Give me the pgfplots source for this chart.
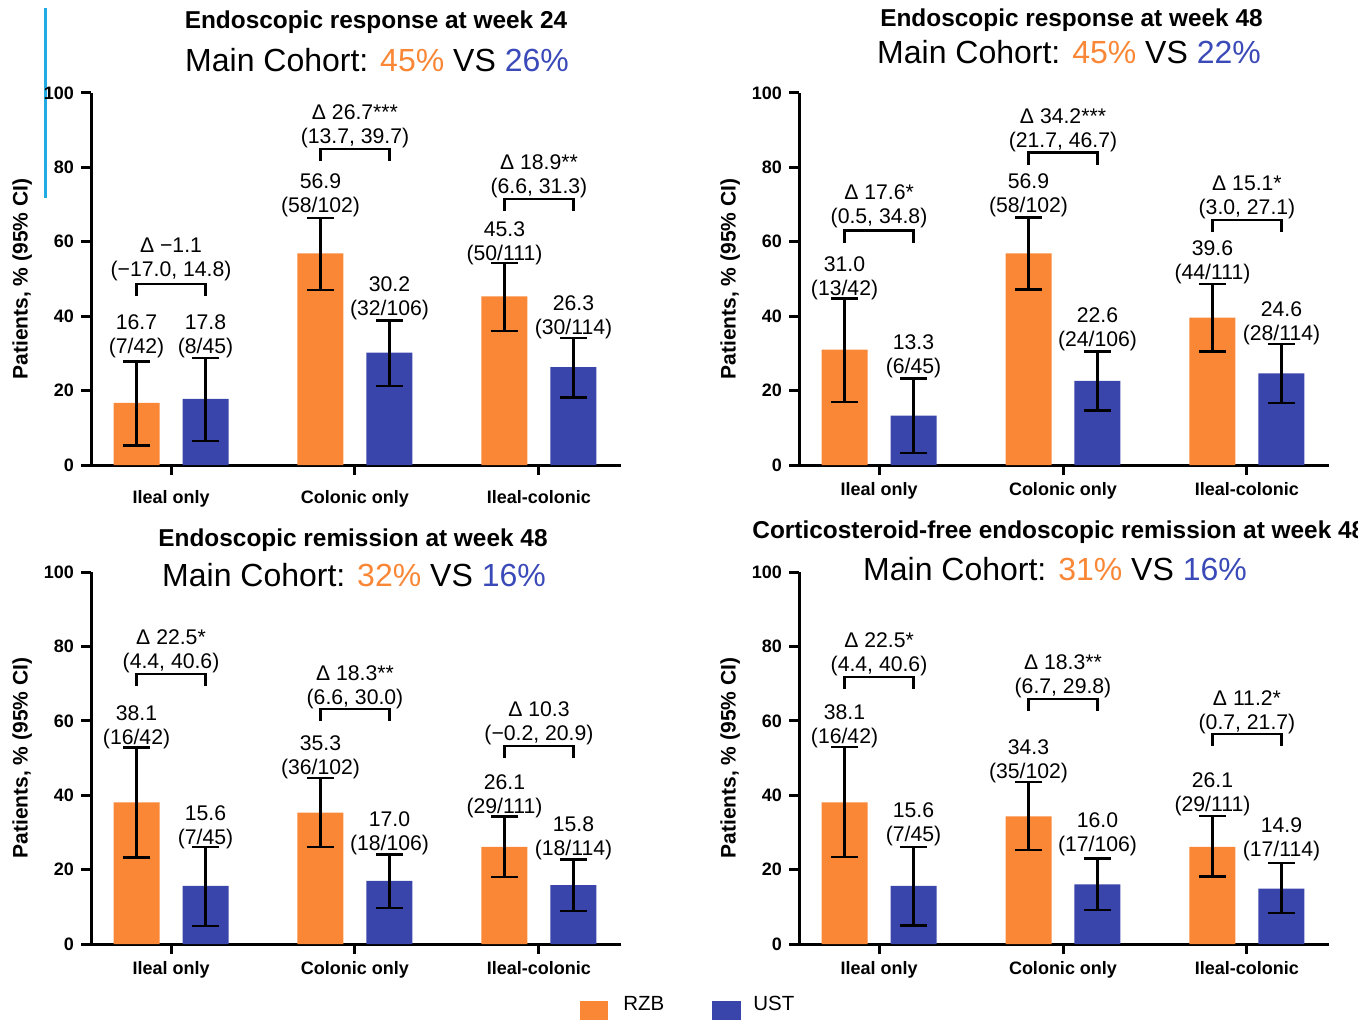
\documentclass[border=0pt]{standalone}
\usepackage{pgfplots}
\pgfplotsset{compat=1.18}
\usepackage{fontspec}
\setmainfont{Liberation Sans}
\definecolor{rzb}{RGB}{249,135,54}
\definecolor{ust}{RGB}{57,69,171}
\definecolor{ustt}{RGB}{58,74,184}
\definecolor{cyanline}{RGB}{34,170,226}

\pgfplotsset{
 panel/.style={
  scale only axis, width=265pt, height=186pt, anchor=south west,
  xmin=-0.435, xmax=2.446, ymin=0, ymax=100,
  axis lines=left, axis line style={-, line width=1.5pt, black},
  xtick={0,1,2}, xticklabels={Ileal only,Colonic only,Ileal-colonic},
  ytick={0,20,40,60,80,100},
  tick align=outside, major tick length=5pt,
  every tick/.append style={line width=1.5pt, black},
  tick label style={font=\bfseries\fontsize{9}{10}\selectfont},
  /pgf/number format/assume math mode=true,
  ylabel={Patients, \% (95\% CI)},
  ylabel style={at={(axis description cs:-0.13,0.5)}, anchor=center, font=\bfseries\fontsize{10.5}{12}\selectfont},
  clip=false,
 },
 barbase/.style={ybar, bar width=23pt, bar shift=0pt, draw=none,
   error bars/y dir=both, error bars/y explicit,
   error bars/error bar style={line width=1.2pt, black},
   error bars/error mark options={rotate=90, line width=1.2pt, mark size=6.75pt, black}},
 rzbbar/.style={barbase, fill=rzb},
 ustbar/.style={barbase, fill=ust},
 brk/.style={black, line width=1.2pt, mark=none, sharp plot},
}
\tikzset{vl/.style={align=center, font=\fontsize{10.6}{12}\selectfont, inner sep=0pt, yshift=-1pt}}

\begin{document}
\begin{tikzpicture}
\useasboundingbox (0,0) rectangle (679pt,509.5pt);
\clip (0,0) rectangle (679pt,509.5pt);

% decorative cyan line
\draw[cyanline, line width=1.5pt] (22.5pt,505.5pt) -- (22.5pt,410.5pt);

% ---------------- Panel 1 ----------------
\begin{axis}[panel, at={(45.5pt,277pt)}, xticklabel style={yshift=-4pt}]
\addplot[rzbbar] table[x=x, y=y, y error plus=ep, y error minus=em] {
x y ep em
-0.1875 16.7 11.1 11.5
0.8125 56.9 9.5 9.8
1.8125 45.3 9.0 9.3
};
\addplot[ustbar] table[x=x, y=y, y error plus=ep, y error minus=em] {
x y ep em
0.1875 17.8 10.9 11.4
1.1875 30.2 8.6 9.0
2.1875 26.3 7.9 8.2
};
\addplot[brk] coordinates {(-0.1875,45.4) (-0.1875,48.7) (0.1875,48.7) (0.1875,45.4)};
\addplot[brk] coordinates {(0.8125,81.7) (0.8125,84.9) (1.1875,84.9) (1.1875,81.7)};
\addplot[brk] coordinates {(1.8125,68.3) (1.8125,71.5) (2.1875,71.5) (2.1875,68.3)};
\node[vl] at (axis cs:-0.1875,35.2) {16.7\\(7/42)};
\node[vl] at (axis cs:0.1875,35.2) {17.8\\(8/45)};
\node[vl] at (axis cs:0.8125,73.1) {56.9\\(58/102)};
\node[vl] at (axis cs:1.1875,45.4) {30.2\\(32/106)};
\node[vl] at (axis cs:1.8125,60.2) {45.3\\(50/111)};
\node[vl] at (axis cs:2.1875,40.3) {26.3\\(30/114)};
\node[vl] at (axis cs:0,55.8) {Δ −1.1\\(−17.0, 14.8)};
\node[vl] at (axis cs:1,91.5) {Δ 26.7***\\(13.7, 39.7)};
\node[vl] at (axis cs:2,78.1) {Δ 18.9**\\(6.6, 31.3)};
\end{axis}

% ---------------- Panel 2 ----------------
\begin{axis}[panel, at={(399.5pt,277pt)}]
\addplot[rzbbar] table[x=x, y=y, y error plus=ep, y error minus=em] {
x y ep em
-0.1875 31.0 13.8 14.1
0.8125 56.9 9.6 9.7
1.8125 39.6 9.1 9.1
};
\addplot[ustbar] table[x=x, y=y, y error plus=ep, y error minus=em] {
x y ep em
0.1875 13.3 9.9 10.0
1.1875 22.6 7.9 8.0
2.1875 24.6 7.9 8.0
};
\addplot[brk] coordinates {(-0.1875,59.8) (-0.1875,63.0) (0.1875,63.0) (0.1875,59.8)};
\addplot[brk] coordinates {(0.8125,80.7) (0.8125,84.0) (1.1875,84.0) (1.1875,80.7)};
\addplot[brk] coordinates {(1.8125,62.5) (1.8125,65.8) (2.1875,65.8) (2.1875,62.5)};
\node[vl] at (axis cs:-0.1875,50.8) {31.0\\(13/42)};
\node[vl] at (axis cs:0.1875,29.8) {13.3\\(6/45)};
\node[vl] at (axis cs:0.8125,73.1) {56.9\\(58/102)};
\node[vl] at (axis cs:1.1875,37.1) {22.6\\(24/106)};
\node[vl] at (axis cs:1.8125,55.1) {39.6\\(44/111)};
\node[vl] at (axis cs:2.1875,38.7) {24.6\\(28/114)};
\node[vl] at (axis cs:0,70.0) {Δ 17.6*\\(0.5, 34.8)};
\node[vl] at (axis cs:1,90.5) {Δ 34.2***\\(21.7, 46.7)};
\node[vl] at (axis cs:2,72.4) {Δ 15.1*\\(3.0, 27.1)};
\end{axis}

% ---------------- Panel 3 ----------------
\begin{axis}[panel, at={(45.5pt,37.5pt)}]
\addplot[rzbbar] table[x=x, y=y, y error plus=ep, y error minus=em] {
x y ep em
-0.1875 38.1 14.7 14.8
0.8125 35.3 9.3 9.3
1.8125 26.1 8.2 8.1
};
\addplot[ustbar] table[x=x, y=y, y error plus=ep, y error minus=em] {
x y ep em
0.1875 15.6 10.4 10.7
1.1875 17.0 7.1 7.3
2.1875 15.8 6.9 6.9
};
\addplot[brk] coordinates {(-0.1875,69.3) (-0.1875,72.6) (0.1875,72.6) (0.1875,69.3)};
\addplot[brk] coordinates {(0.8125,59.9) (0.8125,63.2) (1.1875,63.2) (1.1875,59.9)};
\addplot[brk] coordinates {(1.8125,50.0) (1.8125,53.2) (2.1875,53.2) (2.1875,50.0)};
\node[vl] at (axis cs:-0.1875,58.9) {38.1\\(16/42)};
\node[vl] at (axis cs:0.1875,31.9) {15.6\\(7/45)};
\node[vl] at (axis cs:0.8125,50.7) {35.3\\(36/102)};
\node[vl] at (axis cs:1.1875,30.3) {17.0\\(18/106)};
\node[vl] at (axis cs:1.8125,40.3) {26.1\\(29/111)};
\node[vl] at (axis cs:2.1875,29.0) {15.8\\(18/114)};
\node[vl] at (axis cs:0,79.1) {Δ 22.5*\\(4.4, 40.6)};
\node[vl] at (axis cs:1,69.5) {Δ 18.3**\\(6.6, 30.0)};
\node[vl] at (axis cs:2,59.9) {Δ 10.3\\(−0.2, 20.9)};
\end{axis}

% ---------------- Panel 4 ----------------
\begin{axis}[panel, at={(399.5pt,37.5pt)}]
\addplot[rzbbar] table[x=x, y=y, y error plus=ep, y error minus=em] {
x y ep em
-0.1875 38.1 14.8 14.7
0.8125 34.3 9.3 9.1
1.8125 26.1 8.3 7.9
};
\addplot[ustbar] table[x=x, y=y, y error plus=ep, y error minus=em] {
x y ep em
0.1875 15.6 10.5 10.6
1.1875 16.0 7.0 6.8
2.1875 14.9 6.8 6.5
};
\addplot[brk] coordinates {(-0.1875,68.5) (-0.1875,71.7) (0.1875,71.7) (0.1875,68.5)};
\addplot[brk] coordinates {(0.8125,62.6) (0.8125,65.9) (1.1875,65.9) (1.1875,62.6)};
\addplot[brk] coordinates {(1.8125,53.3) (1.8125,56.5) (2.1875,56.5) (2.1875,53.3)};
\node[vl] at (axis cs:-0.1875,59.1) {38.1\\(16/42)};
\node[vl] at (axis cs:0.1875,32.8) {15.6\\(7/45)};
\node[vl] at (axis cs:0.8125,49.7) {34.3\\(35/102)};
\node[vl] at (axis cs:1.1875,30.1) {16.0\\(17/106)};
\node[vl] at (axis cs:1.8125,40.8) {26.1\\(29/111)};
\node[vl] at (axis cs:2.1875,28.7) {14.9\\(17/114)};
\node[vl] at (axis cs:0,78.3) {Δ 22.5*\\(4.4, 40.6)};
\node[vl] at (axis cs:1,72.6) {Δ 18.3**\\(6.7, 29.8)};
\node[vl] at (axis cs:2,62.7) {Δ 11.2*\\(0.7, 21.7)};
\end{axis}

% ---------------- Titles ----------------
\node[anchor=base, inner sep=0pt, font=\bfseries\fontsize{12.2}{14}\selectfont] at (188pt,495.25pt) {Endoscopic response at week 24};
\node[anchor=base, inner sep=0pt, font=\fontsize{16}{19}\selectfont] at (188.5pt,473.5pt) {Main Cohort: \textcolor{rzb}{45\%} VS \textcolor{ustt}{26\%}};
\node[anchor=base, inner sep=0pt, font=\bfseries\fontsize{12.2}{14}\selectfont] at (535.75pt,496.2pt) {Endoscopic response at week 48};
\node[anchor=base, inner sep=0pt, font=\fontsize{16}{19}\selectfont] at (534.5pt,477.8pt) {Main Cohort: \textcolor{rzb}{45\%} VS \textcolor{ustt}{22\%}};
\node[anchor=base, inner sep=0pt, font=\bfseries\fontsize{12.2}{14}\selectfont] at (176.5pt,236.2pt) {Endoscopic remission at week 48};
\node[anchor=base, inner sep=0pt, font=\fontsize{16}{19}\selectfont] at (177pt,216.2pt) {Main Cohort: \textcolor{rzb}{32\%} VS \textcolor{ustt}{16\%}};
\node[anchor=base west, inner sep=0pt, font=\bfseries\fontsize{12.2}{14}\selectfont] at (376pt,240.4pt) {Corticosteroid-free endoscopic remission at week 48};
\node[anchor=base, inner sep=0pt, font=\fontsize{16}{19}\selectfont] at (527.5pt,219.5pt) {Main Cohort: \textcolor{rzb}{31\%} VS \textcolor{ustt}{16\%}};

% ---------------- Legend ----------------
\fill[rzb] (290pt,-5pt) rectangle (304pt,9pt);
\node[anchor=base west, inner sep=0pt, font=\fontsize{10.25}{12}\selectfont] at (311.5pt,4.5pt) {RZB};
\fill[ust] (356pt,-5pt) rectangle (370.5pt,9pt);
\node[anchor=base west, inner sep=0pt, font=\fontsize{10.25}{12}\selectfont] at (376.5pt,4.5pt) {UST};
\end{tikzpicture}
\end{document}
